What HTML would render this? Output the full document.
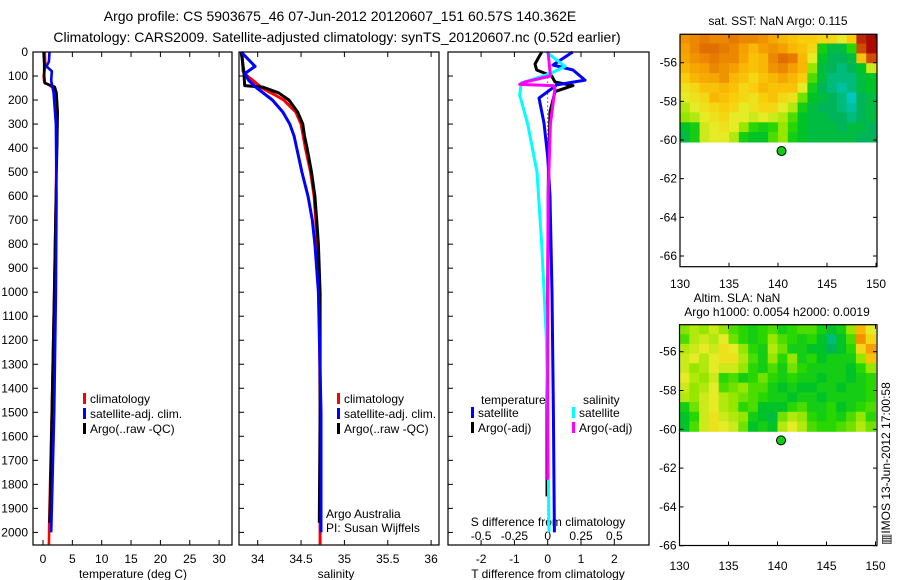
<!DOCTYPE html>
<html><head><meta charset="utf-8"><style>
html,body{margin:0;padding:0;background:#fff;}
svg{display:block;font-family:"Liberation Sans",sans-serif;}
</style></head><body>
<svg id="fig" width="900" height="580" viewBox="0 0 900 580" xmlns="http://www.w3.org/2000/svg">
<text x="340" y="21" font-size="14" text-anchor="middle">Argo profile: CS 5903675_46 07-Jun-2012 20120607_151 60.57S 140.362E</text>
<text x="337" y="42" font-size="14" text-anchor="middle">Climatology: CARS2009. Satellite-adjusted climatology: synTS_20120607.nc (0.52d earlier)</text>
<text x="778" y="25" font-size="12" text-anchor="middle">sat. SST: NaN Argo: 0.115</text>
<text x="737" y="302" font-size="12" text-anchor="middle">Altim. SLA: NaN</text>
<text x="777" y="316" font-size="12" text-anchor="middle">Argo h1000: 0.0054 h2000: 0.0019</text>
<text transform="translate(890,545) rotate(-90)" font-size="12">▥IMOS 13-Jun-2012 17:00:58</text>
<g id="g"></g>
</svg>
<script>
// ---- data ----
const depthTicks=[0,100,200,300,400,500,600,700,800,900,1000,1100,1200,1300,1400,1500,1600,1700,1800,1900,2000];
const tempTicks=[0,5,10,15,20,25,30];
const salTicks=[34,34.5,35,35.5,36];
const tdiffTicks=[-2,-1,0,1,2];
const sdiffTicks=[-0.5,-0.25,0,0.25,0.5];
const sdiffTickLabels=["-0.5","-0.25","0","0.25","0.5"];
const lonTicks=[130,135,140,145,150];
const latTicks=[-56,-58,-60,-62,-64,-66];

const tClimDepth=[0,60,100,125,150,175,250,400,600,1000,1500,1900,2050];
const tClimVal=[0.3,0.4,0.1,0.2,1.8,2.2,2.3,2.3,2.2,1.9,1.5,1.1,1.0];
const tSatDepth=[0,40,60,80,120,170,300,600,1000,1500,1800,2000];
const tSatVal=[1.1,1.0,0.6,1.5,1.4,1.8,2.2,2.3,2.2,1.9,1.6,1.4];
const tArgoDepth=[0,50,100,130,145,170,250,400,600,1000,1500,1900,1960];
const tArgoVal=[0.1,0.2,0.2,0.3,2.0,2.3,2.5,2.4,2.2,1.9,1.5,1.2,1.1];

const sClimDepth=[0,80,100,120,150,175,200,250,300,400,500,600,700,800,1000,1500,2050];
const sClimVal=[33.82,33.83,33.88,33.95,34.05,34.18,34.30,34.44,34.50,34.55,34.61,34.65,34.67,34.69,34.71,34.72,34.72];
const sSatDepth=[0,60,90,120,150,175,200,250,300,350,400,450,500,600,700,800,1000,1500,2000];
const sSatVal=[33.81,33.97,33.85,33.90,33.99,34.08,34.17,34.29,34.37,34.42,34.45,34.48,34.51,34.58,34.63,34.66,34.70,34.73,34.73];
const sArgoDepth=[0,80,140,146,170,200,250,300,350,400,500,600,700,800,1000,1500,1960];
const sArgoVal=[33.81,33.84,33.85,34.06,34.24,34.36,34.46,34.52,34.54,34.57,34.62,34.66,34.68,34.70,34.72,34.72,34.71];

const dTSatDepth=[0,54,75,117,137,192,296,436,600,1000,1500,2000];
const dTSatVal=[0.75,0.16,0.76,1.12,0.27,-0.26,-0.11,0.0,0.07,0.13,0.17,0.2];
const dTArgoDepth=[0,50,75,100,125,140,165,250,500,1000,1500,1850];
const dTArgoVal=[-0.18,-0.38,-0.33,0.12,0.22,0.76,0.22,0.07,0.02,0.0,-0.02,-0.02];
const dSSatDepth=[0,60,90,129,179,300,500,800,1200,1500,2000];
const dSSatVal=[-0.01,0.13,0.02,-0.2,-0.21,-0.15,-0.08,-0.045,-0.01,0.0,0.01];
const dSArgoDepth=[0,100,125,135,140,150,300,600,1000,1780];
const dSArgoVal=[0.003,0.02,-0.17,-0.21,0.04,0.055,0.02,0.003,0.0,0.0];

const sstGrid=[
[0.78,0.80,0.82,0.80,0.80,0.82,0.80,0.80,0.78,0.75,0.72,0.70,0.68,0.68,0.66,0.66,0.62,0.68,0.92,0.95],
[0.76,0.80,0.84,0.84,0.82,0.80,0.76,0.72,0.76,0.78,0.76,0.72,0.70,0.66,0.48,0.44,0.44,0.50,0.88,0.95],
[0.75,0.78,0.80,0.82,0.80,0.80,0.75,0.70,0.72,0.80,0.84,0.82,0.72,0.62,0.46,0.42,0.42,0.44,0.70,0.88],
[0.72,0.75,0.76,0.80,0.78,0.76,0.72,0.70,0.72,0.78,0.80,0.76,0.72,0.56,0.44,0.42,0.40,0.42,0.46,0.60],
[0.68,0.72,0.74,0.75,0.78,0.72,0.70,0.66,0.70,0.72,0.75,0.72,0.68,0.52,0.44,0.40,0.40,0.40,0.44,0.46],
[0.64,0.66,0.70,0.70,0.72,0.70,0.66,0.68,0.72,0.70,0.70,0.70,0.62,0.48,0.42,0.40,0.38,0.40,0.44,0.46],
[0.62,0.64,0.66,0.72,0.70,0.68,0.66,0.64,0.68,0.70,0.66,0.64,0.54,0.46,0.44,0.42,0.40,0.36,0.42,0.44],
[0.58,0.62,0.64,0.66,0.68,0.66,0.62,0.64,0.66,0.66,0.62,0.58,0.48,0.44,0.42,0.42,0.40,0.38,0.42,0.44],
[0.56,0.58,0.62,0.64,0.66,0.62,0.62,0.60,0.62,0.60,0.58,0.52,0.46,0.44,0.44,0.42,0.42,0.40,0.42,0.44],
[0.46,0.48,0.60,0.62,0.64,0.62,0.56,0.50,0.48,0.50,0.56,0.50,0.46,0.44,0.44,0.44,0.42,0.44,0.44,0.42],
[0.44,0.48,0.60,0.62,0.62,0.58,0.48,0.46,0.46,0.52,0.56,0.48,0.46,0.44,0.44,0.44,0.44,0.44,0.42,0.42]];
const slaGrid=[
[0.55,0.58,0.56,0.60,0.56,0.52,0.50,0.48,0.50,0.52,0.48,0.50,0.52,0.52,0.48,0.46,0.48,0.56,0.72,0.62],
[0.52,0.58,0.60,0.58,0.62,0.54,0.50,0.48,0.50,0.56,0.52,0.50,0.48,0.50,0.46,0.40,0.46,0.52,0.78,0.66],
[0.58,0.60,0.62,0.60,0.64,0.62,0.56,0.50,0.48,0.58,0.54,0.48,0.48,0.46,0.46,0.42,0.46,0.50,0.66,0.76],
[0.60,0.62,0.58,0.62,0.64,0.64,0.58,0.52,0.48,0.56,0.50,0.56,0.48,0.50,0.46,0.48,0.48,0.48,0.56,0.70],
[0.60,0.56,0.58,0.62,0.60,0.60,0.56,0.50,0.48,0.52,0.48,0.54,0.50,0.48,0.48,0.48,0.48,0.46,0.50,0.56],
[0.62,0.58,0.56,0.60,0.50,0.52,0.48,0.50,0.54,0.50,0.48,0.50,0.48,0.48,0.46,0.48,0.48,0.46,0.48,0.50],
[0.60,0.56,0.58,0.62,0.52,0.54,0.56,0.52,0.52,0.48,0.46,0.48,0.46,0.46,0.48,0.48,0.46,0.48,0.48,0.50],
[0.58,0.56,0.60,0.62,0.58,0.56,0.54,0.52,0.50,0.48,0.48,0.46,0.48,0.48,0.46,0.48,0.48,0.48,0.48,0.50],
[0.48,0.54,0.60,0.62,0.58,0.56,0.50,0.52,0.46,0.46,0.46,0.50,0.52,0.48,0.48,0.50,0.46,0.48,0.50,0.52],
[0.46,0.50,0.60,0.64,0.60,0.58,0.56,0.48,0.46,0.44,0.54,0.58,0.56,0.50,0.48,0.50,0.48,0.52,0.56,0.50],
[0.46,0.52,0.60,0.64,0.62,0.60,0.54,0.46,0.48,0.46,0.58,0.62,0.58,0.52,0.50,0.50,0.52,0.54,0.58,0.54]];
const argoLon=140.36, argoLat=-60.57;

// ---- helpers ----
const NS="http://www.w3.org/2000/svg";
const G=document.getElementById('g');
function mk(tag,attrs,txt){const e=document.createElementNS(NS,tag);for(const k in attrs)e.setAttribute(k,attrs[k]);if(txt!==undefined)e.textContent=txt;G.appendChild(e);return e;}
const yD=d=>52+d*0.2402;
const xT=v=>43+v*5.87;
const xS=v=>257.7+(v-34)*86.7;
const xDT=v=>547.7+v*33.3;
const xDS=v=>547.7+v*133.2;
const mapX1=v=>680+(v-130)*9.8, mapY1=v=>62.7+(-56-v)*19.33;
const mapX2=v=>679.5+(v-130)*9.8, mapY2=v=>390.5+(-58-v)*19.4;

function series(depths,vals,xf,color,w,name,dash){
  let d='';for(let i=0;i<depths.length;i++){d+=(i?'L':'M')+xf(vals[i]).toFixed(1)+','+yD(depths[i]).toFixed(1);}
  const p=mk('path',{d:d,fill:'none',stroke:color,'stroke-width':w,'stroke-linejoin':'round'});
  if(dash)p.setAttribute('stroke-dasharray',dash);
  
  
}
function box(x,y,w,h,name){const r=mk('rect',{x:x,y:y,width:w,height:h,fill:'none',stroke:'#000','stroke-width':1.2});
  }
function tick(x1,y1,x2,y2){mk('line',{x1:x1,y1:y1,x2:x2,y2:y2,stroke:'#000','stroke-width':1});}
function label(x,y,t,anchor,size,name){const e=mk('text',{x:x,y:y,'font-size':size||12,'text-anchor':anchor||'middle'},t);
  return e;}
function legend(x,y,entries,names){entries.forEach((en,i)=>{
  const r=mk('rect',{x:x,y:y+i*15-10,width:3,height:11,fill:en[1]});
  
  label(x+7,y+i*15,en[0],'start',12,names[i]+'-label');});}

// ---- panel 1: temperature ----
const P1={l:33,r:232,t:52,b:545};
depthTicks.forEach(d=>{tick(P1.l,yD(d),P1.l+5,yD(d));label(28,yD(d)+4,String(d),'end',12,'depth-tick-label');});
tempTicks.forEach(v=>{tick(xT(v),P1.t,xT(v),P1.t+5);tick(xT(v),P1.b,xT(v),P1.b-5);label(xT(v),563,String(v),'middle',12,'temp-tick-label');});
label(133,578,'temperature (deg C)','middle',12,'temp-x-axis-title');
series(tClimDepth,tClimVal,xT,'#f00',2.6,'temp-climatology-line');
series(tArgoDepth,tArgoVal,xT,'#000',2.6,'temp-argo-line');
series(tSatDepth,tSatVal,xT,'#00f',2.6,'temp-satellite-line');
legend(83,403,[['climatology','#f00'],['satellite-adj. clim.','#00f'],['Argo(..raw -QC)','#000']],['temp-legend-climatology','temp-legend-satellite','temp-legend-argo']);
box(P1.l,P1.t,P1.r-P1.l,P1.b-P1.t,'temperature-panel');

// ---- panel 2: salinity ----
const P2={l:239,r:439,t:52,b:545};
depthTicks.forEach(d=>{tick(P2.l,yD(d),P2.l+5,yD(d));});
salTicks.forEach(v=>{tick(xS(v),P2.t,xS(v),P2.t+5);tick(xS(v),P2.b,xS(v),P2.b-5);label(xS(v),563,String(v),'middle',12,'salinity-tick-label');});
label(336,578,'salinity','middle',12,'salinity-x-axis-title');
series(sClimDepth,sClimVal,xS,'#f00',3,'salinity-climatology-line');
series(sArgoDepth,sArgoVal,xS,'#000',3,'salinity-argo-line');
series(sSatDepth,sSatVal,xS,'#00f',3,'salinity-satellite-line');
legend(337,403,[['climatology','#f00'],['satellite-adj. clim.','#00f'],['Argo(..raw -QC)','#000']],['sal-legend-climatology','sal-legend-satellite','sal-legend-argo']);
label(326,518,'Argo Australia','start',12,'argo-australia-note');
label(326,532,'PI: Susan Wijffels','start',12,'pi-note');
box(P2.l,P2.t,P2.r-P2.l,P2.b-P2.t,'salinity-panel');

// ---- panel 3: differences ----
const P3={l:448,r:649,t:52,b:545};
depthTicks.forEach(d=>{tick(P3.l,yD(d),P3.l+5,yD(d));});
tdiffTicks.forEach(v=>{tick(xDT(v),P3.t,xDT(v),P3.t+5);tick(xDT(v),P3.b,xDT(v),P3.b-5);label(xDT(v),563,String(v),'middle',12,'tdiff-tick-label');});
sdiffTicks.forEach((v,i)=>{label(xDS(v),540,sdiffTickLabels[i],'middle',12,'sdiff-tick-label');});
label(548,526,'S difference from climatology','middle',12,'sdiff-axis-title');
label(548,578,'T difference from climatology','middle',12,'tdiff-x-axis-title');
mk('line',{x1:xDT(0),y1:yD(90),x2:xDT(0),y2:yD(1960),stroke:'#000','stroke-width':1,'stroke-dasharray':'1,3'});
series(dTArgoDepth,dTArgoVal,xDT,'#000',3,'tdiff-argo-line');
series(dTSatDepth,dTSatVal,xDT,'#00f',3,'tdiff-satellite-line');
series(dSSatDepth,dSSatVal,xDS,'#0ff',3,'sdiff-satellite-line');
series(dSArgoDepth,dSArgoVal,xDS,'#f0f',3,'sdiff-argo-line');
label(481,404,'temperature','start',12,'diff-legend-temperature-heading');
label(583,404,'salinity','start',12,'diff-legend-salinity-heading');
legend(471,417,[['satellite','#00f'],['Argo(-adj)','#000']],['diff-legend-temp-satellite','diff-legend-temp-argo']);
legend(572,417,[['satellite','#0ff'],['Argo(-adj)','#f0f']],['diff-legend-sal-satellite','diff-legend-sal-argo']);
box(P3.l,P3.t,P3.r-P3.l,P3.b-P3.t,'difference-panel');

// ---- maps ----
const stops=[[0.30,[0,170,200]],[0.36,[0,200,190]],[0.42,[0,180,90]],[0.46,[0,195,40]],[0.5,[40,215,0]],[0.56,[150,230,0]],[0.62,[230,235,40]],[0.68,[250,205,10]],[0.76,[245,160,0]],[0.84,[225,110,0]],[0.9,[200,60,0]],[0.96,[165,0,0]]];
function cmap(v){if(v<=stops[0][0])return 'rgb('+stops[0][1]+')';
  for(let i=1;i<stops.length;i++){if(v<=stops[i][0]){const a=stops[i-1],b=stops[i],t=(v-a[0])/(b[0]-a[0]);
    return 'rgb('+a[1].map((c,k)=>Math.round(c+(b[1][k]-c)*t)).join(',')+')';}}
  return 'rgb('+stops[stops.length-1][1]+')';}
function drawMap(grid,latTop,X,Y,top,bot,prefix,xlabY){
  const rows=grid.length,cols=grid[0].length,dLat=(latTop-(-60.1))/rows;
  for(let r=0;r<rows;r++)for(let c=0;c<cols;c++){
    const x0=X(130+c),x1=X(131+c),y0=Y(latTop-r*dLat),y1=Y(latTop-(r+1)*dLat);
    const e=mk('rect',{x:x0.toFixed(1),y:y0.toFixed(1),width:(x1-x0+0.6).toFixed(1),height:(y1-y0+0.6).toFixed(1),fill:cmap(grid[r][c])});
    
    
  }
  const L=X(130),R=877;
  latTicks.forEach(v=>{tick(L,Y(v),L+4,Y(v));tick(R,Y(v),R-4,Y(v));label(L-3,Y(v)+4,String(v),'end',12,prefix+'-lat-tick-label');});
  lonTicks.forEach(v=>{tick(X(v),top,X(v),top+4);tick(X(v),bot,X(v),bot-4);label(X(v),xlabY,String(v),'middle',12,prefix+'-lon-tick-label');});
  const dot=mk('circle',{cx:X(argoLon),cy:Y(argoLat),r:4.5,fill:'#1c1',stroke:'#000','stroke-width':1});
  
  
  box(L,top,R-L,bot-top,prefix+'-map');
}
drawMap(sstGrid,-54.5,mapX1,mapY1,34.3,266.7,'sst',288);
drawMap(slaGrid,-54.6,mapX2,mapY2,324.7,545.5,'sla',570);
</script>
</body></html>
